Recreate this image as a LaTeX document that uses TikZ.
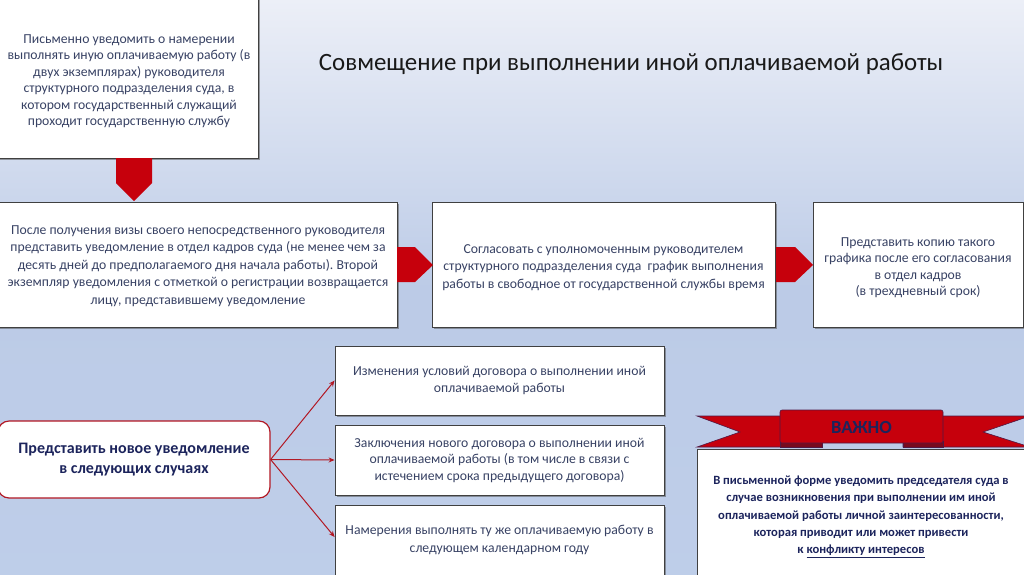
\documentclass[tikz,border=0pt]{standalone}
\usepackage{fontspec}
\setmainfont{Carlito}
\usetikzlibrary{shadows,arrows.meta}
\definecolor{bgtop}{RGB}{236,239,247}
\definecolor{bgmid}{RGB}{188,203,231}
\definecolor{bgbot}{RGB}{179,197,229}
\definecolor{txt}{RGB}{56,66,100}
\definecolor{navy}{RGB}{28,36,92}
\definecolor{bred}{RGB}{198,0,12}
\definecolor{dred}{RGB}{120,10,30}
\definecolor{lred}{RGB}{178,24,36}
\tikzset{
  x=1pt, y=-1pt,
  box/.style={draw=black!75, line width=0.8pt, fill=white, align=center, text=txt,
    font=\fontsize{13.7}{16.5}\selectfont, inner sep=0pt,
    drop shadow={shadow xshift=2pt, shadow yshift=-2pt, fill=black!70, opacity=0.5}},
  boxtext/.style={align=center, text=txt, font=\fontsize{13.7}{16.5}\selectfont, inner sep=0pt},
  rbox/.style={draw=lred, line width=1.2pt, fill=white, rounded corners=11pt, align=center,
    text=navy, font=\fontsize{16}{19.5}\selectfont\bfseries, inner sep=0pt},
  blockarrow/.style={fill=bred, draw=none},
  link/.style={draw=lred, line width=1pt, -{Stealth[length=6pt,width=5pt]}},
  ribbon/.style={fill=bred, draw=navy!70!bred, line width=0.6pt},
}
\begin{document}
\frenchspacing
\begin{tikzpicture}
\useasboundingbox (0,0) rectangle (1024,574);
\clip (0,0) rectangle (1024,574);
\shade[top color=bgtop, bottom color=bgmid] (0,0) rectangle (1024,288);
\shade[top color=bgmid, bottom color=bgbot!85!white] (0,287) rectangle (1024,574);

% title
\node[font=\fontsize{24.9}{29}\selectfont, text=black!90, anchor=center] (title) at (631,64) {Совмещение при выполнении иной оплачиваемой работы};

% top boxes
\node[box, minimum width=263pt, minimum height=163pt] (b1) at (126.5,76.5) {};
\node[boxtext] (b1t) at (129,81)
  {Письменно уведомить о намерении\\выполнять иную оплачиваемую работу (в\\двух экземплярах) руководителя\\структурного подразделения суда, в\\котором государственный служащий\\проходит государственную службу};

\node[box, minimum width=402pt, minimum height=125pt] (b2) at (196,264.5) {};
\node[boxtext, font=\fontsize{13.7}{17.5}\selectfont] (b2t) at (198,266)
  {После получения визы своего непосредственного руководителя\\представить уведомление в отдел кадров суда (не менее чем за\\десять дней до предполагаемого дня начала работы). Второй\\экземпляр уведомления с отметкой о регистрации возвращается\\лицу, представившему уведомление};

\node[box, minimum width=343pt, minimum height=125pt] (b3) at (603.5,264.5) {};
\node[boxtext, font=\fontsize{13.7}{17.5}\selectfont] (b3t) at (603.5,267.5)
  {Согласовать с уполномоченным руководителем\\структурного подразделения суда\ \ график выполнения\\работы в свободное от государственной службы время};

\node[box, minimum width=210pt, minimum height=125pt] (b4) at (918,264.5) {};
\node[boxtext] (b4t) at (918,267.5)
  {Представить копию такого\\графика после его согласования\\в отдел кадров\\(в трехдневный срок)};

% block arrows
\fill[blockarrow] (116,158) -- (152,158) -- (152,183) -- (134,201) -- (116,183) -- cycle;
\fill[blockarrow] (397,247) -- (415,247) -- (433,265) -- (415,282) -- (397,282) -- cycle;
\fill[blockarrow] (776,247) -- (795,247) -- (813,265) -- (795,282) -- (776,282) -- cycle;

% bottom left
\node[rbox, minimum width=272pt, minimum height=77pt] (rb) at (134,459.5)
  {Представить новое уведомление\\в следующих случаях};

\node[box, minimum width=329pt, minimum height=69pt] (b5) at (499.5,380.5)
  {Изменения условий договора о выполнении иной\\оплачиваемой работы};
\node[box, minimum width=329pt, minimum height=70pt] (b6) at (499.5,460)
  {Заключения нового договора о выполнении иной\\оплачиваемой работы (в том числе в связи с\\истечением срока предыдущего договора)};
\node[box, minimum width=329pt, minimum height=74pt] (b7) at (499.5,542) {};
\node[boxtext, font=\fontsize{13.7}{17.5}\selectfont] (b7t) at (499.5,540)
  {Намерения выполнять ту же оплачиваемую работу в\\следующем календарном году};

\draw[link] (rb.east) -- (b5.west);
\draw[link] (rb.east) -- (b6.west);
\draw[link] (rb.east) -- (b7.west |- 0,537);

% important box
\node[box, minimum width=333pt, minimum height=140pt] (imp) at (863.5,519) {};
\node[align=center, text=navy, font=\fontsize{12.6}{17.3}\selectfont\bfseries] (impt) at (861,517)
  {В письменной форме уведомить председателя суда в\\случае возникновения при выполнении им иной\\оплачиваемой работы личной заинтересованности,\\которая приводит или может привести\\к \underline{конфликту интересов}};

% ribbon
\filldraw[ribbon] (697,416) -- (822,416) -- (822,447) -- (697,447) -- (740,432) -- cycle;
\filldraw[ribbon] (1030,416) -- (903,416) -- (903,447) -- (1030,447) -- (983,432) -- cycle;
\filldraw[fill=dred, draw=navy!70!bred, line width=0.6pt] (780,441) rectangle (822,447);
\filldraw[fill=dred, draw=navy!70!bred, line width=0.6pt] (903,441) rectangle (943,447);
\filldraw[ribbon, rounded corners=2pt] (780,410) rectangle (943,443);
\node[text=navy, font=\fontsize{18.5}{20}\selectfont\bfseries] (vazhno) at (861.5,427) {ВАЖНО};
\end{tikzpicture}
\end{document}
